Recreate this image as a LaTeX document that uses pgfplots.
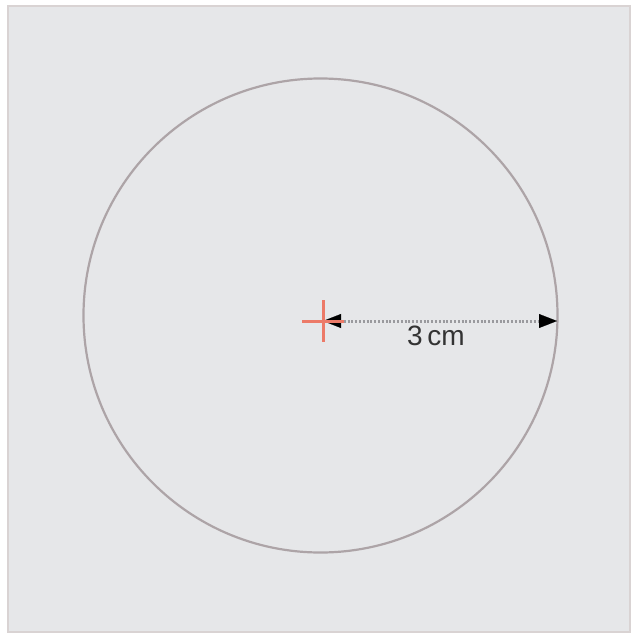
\documentclass[border=0pt]{standalone}
\usepackage{pgfplots}
\pgfplotsset{compat=1.18}
\usetikzlibrary{arrows.meta}
\usepackage{fontspec}
\setmainfont{Liberation Sans}
\definecolor{bgc}{HTML}{E6E7E9}
\definecolor{bordc}{HTML}{D9D3D3}
\definecolor{circc}{HTML}{ADA4A7}
\definecolor{crossc}{HTML}{EC7A68}
\definecolor{dotc}{HTML}{9A9A9E}
\definecolor{txtc}{HTML}{333333}
\begin{document}
\begin{tikzpicture}
\begin{axis}[
  scale only axis, width=637pt, height=640pt,
  xmin=0, xmax=637, ymin=0, ymax=640, y dir=reverse,
  hide axis, clip=false,
]
% full page extent
\path (rel axis cs:0,0) rectangle (rel axis cs:1,1);
% background panel
\addplot[fill=bgc, draw=bordc, line width=1.5pt] coordinates {(8,6) (630,6) (630,632) (8,632)} --cycle;
% circle
\draw[circc, line width=2.2pt] (axis cs:320.5,315.5) circle[radius=237];
% center cross
\addplot[only marks, mark=+, mark size=21pt, crossc, mark options={line width=3pt}] coordinates {(323,321)};
% dotted radius
\addplot[dotc, line width=3pt, dash pattern=on 2pt off 1.8pt] coordinates {(340,321) (540,321)};
\draw[-{Triangle[length=18pt,width=14pt]}, line width=0.1pt, black] (axis cs:340,321) -- (axis cs:323,321);
\draw[-{Triangle[length=18pt,width=14pt]}, line width=0.1pt, black] (axis cs:540,321) -- (axis cs:557,321);
% label
\node[txtc, font=\fontsize{28}{30}\selectfont] at (axis cs:436,336) {3\,cm};
\end{axis}
\end{tikzpicture}
\end{document}
